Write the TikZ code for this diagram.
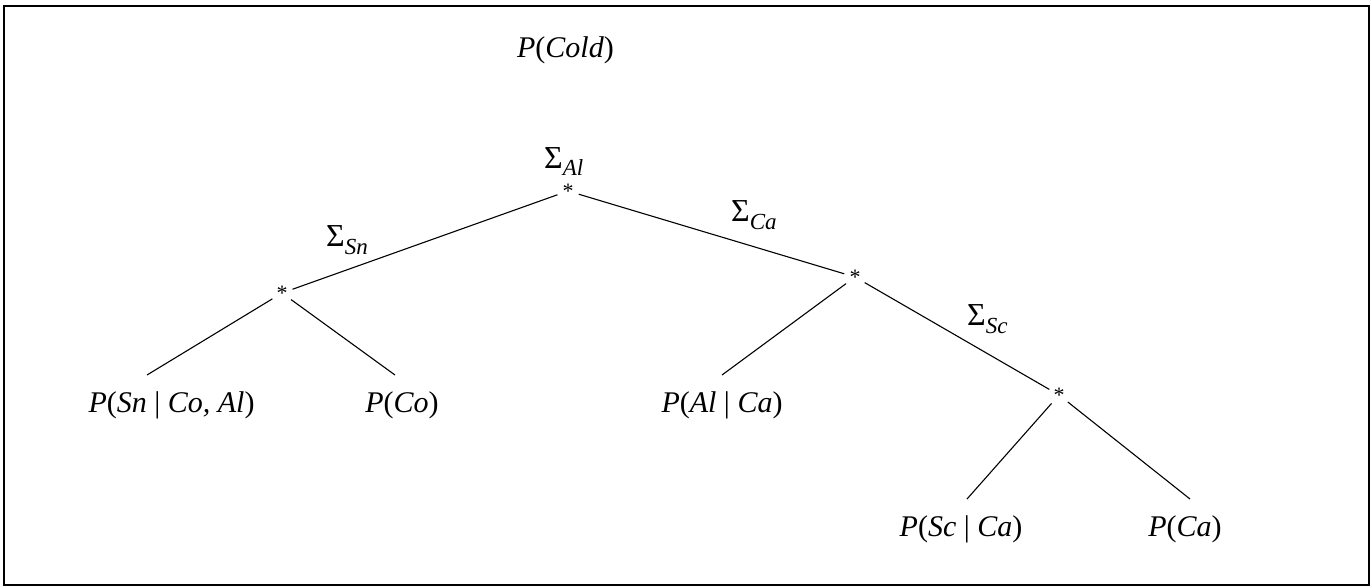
\documentclass[tikz,border=0pt]{standalone}
\usepackage{fontspec}
\setmainfont{Liberation Serif}

\begin{document}
\begin{tikzpicture}[x=1pt,y=-1pt,
    foglia/.style={font=\fontsize{30}{32}\selectfont, anchor=base, inner sep=0pt,
        text height=21pt, text depth=6pt, outer ysep=16pt},
    somma/.style={font=\fontsize{32}{34}\selectfont, anchor=base west, inner sep=0pt},
    stella/.style={circle, minimum size=22pt, inner sep=0pt, font=\fontsize{22}{22}\selectfont},
    ramo/.style={line width=1.1pt}]
    % cornice
    \useasboundingbox (0,0) rectangle (1372,587);
    \draw[line width=1.6pt] (4,6) rectangle (1369,585);

    % titolo
    \node[foglia, outer ysep=0pt] (titolo) at (565.5,57) {\textit{P}(\textit{Cold})};

    % nodi prodotto
    \node[stella] (radice) at (568,191) {\raisebox{-4pt}{*}};
    \node[stella] (sinistra) at (282,293) {\raisebox{-4pt}{*}};
    \node[stella] (destra) at (855,277) {\raisebox{-4pt}{*}};
    \node[stella] (basso) at (1059,395) {\raisebox{-4pt}{*}};

    % foglie
    \node[foglia] (snco) at (171.5,412) {\textit{P}(\textit{Sn} | \textit{Co, Al})};
    \node[foglia] (co) at (402,412) {\textit{P}(\textit{Co})};
    \node[foglia] (alca) at (722,412) {\textit{P}(\textit{Al} | \textit{Ca})};
    \node[foglia] (scca) at (961,536) {\textit{P}(\textit{Sc} | \textit{Ca})};
    \node[foglia] (ca) at (1185,536) {\textit{P}(\textit{Ca})};

    % somme
    \node[somma] (sumal) at (544,168) {Σ\raisebox{-7pt}{\fontsize{23}{23}\selectfont\textit{Al}}};
    \node[somma] (sumsn) at (326,246) {Σ\raisebox{-8pt}{\fontsize{23}{23}\selectfont\textit{Sn}}};
    \node[somma] (sumca) at (731,221) {Σ\raisebox{-8pt}{\fontsize{23}{23}\selectfont\textit{Ca}}};
    \node[somma] (sumsc) at (967,325) {Σ\raisebox{-8pt}{\fontsize{23}{23}\selectfont\textit{Sc}}};

    % rami
    \draw[ramo] (radice) -- (sinistra);
    \draw[ramo] (radice) -- (destra);
    \draw[ramo] (destra) -- (basso);
    \draw[ramo] (sinistra) -- ([xshift=-24.5pt]snco.north);
    \draw[ramo] (sinistra) -- ([xshift=-7pt]co.north);
    \draw[ramo] (destra) -- (alca.north);
    \draw[ramo] (basso) -- ([xshift=6pt]scca.north);
    \draw[ramo] (basso) -- ([xshift=5pt]ca.north);
\end{tikzpicture}
\end{document}
